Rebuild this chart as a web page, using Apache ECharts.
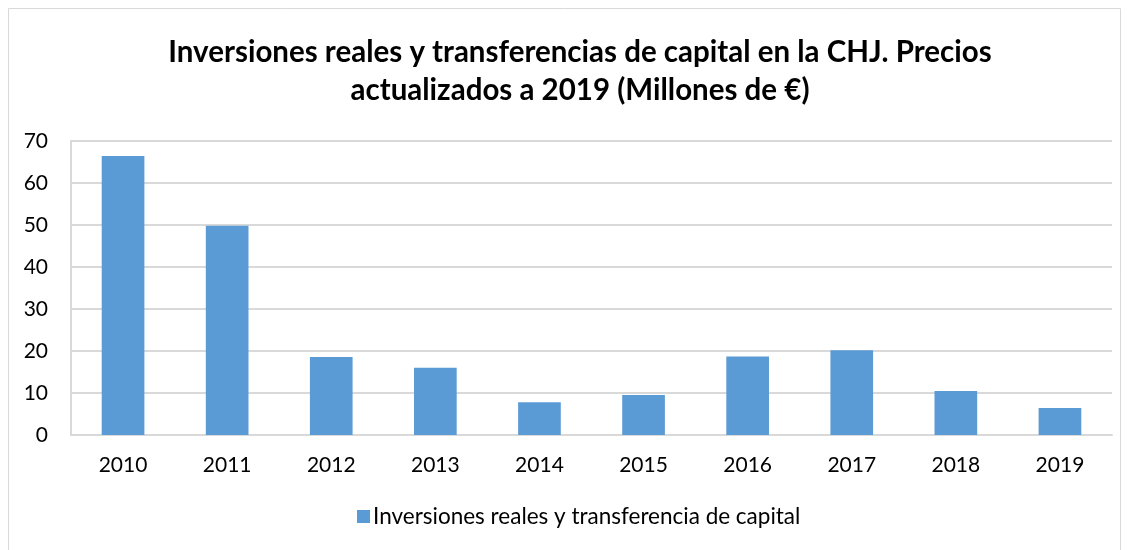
<!DOCTYPE html>
<html>
<head>
<meta charset="utf-8">
<script src="https://cdn.jsdelivr.net/npm/echarts@6/dist/echarts.min.js"></script>
<style>
  html, body { margin: 0; padding: 0; background: #fff; }
  #main { width: 1130px; height: 550px; }
</style>
</head>
<body>
<div id="main"></div>
<script>
// datos
var years = ['2010', '2011', '2012', '2013', '2014', '2015', '2016', '2017', '2018', '2019'];
var inversiones = [66.4, 49.8, 18.6, 16.0, 7.8, 9.5, 18.7, 20.2, 10.5, 6.4];
var yTicks = [0, 10, 20, 30, 40, 50, 60, 70];

var serieName = 'Inversiones reales y transferencia de capital';
var fontFam = 'Lato, "Open Sans", sans-serif';

var myChart = echarts.init(document.getElementById('main'));

var option = {
    animation: false,
    backgroundColor: '#fff',
    title: {
        text: 'Inversiones reales y transferencias de capital en la CHJ. Precios\nactualizados a 2019 (Millones de €)',
        left: 575,
        textAlign: 'center',
        top: 28,
        textStyle: {
            fontFamily: fontFam,
            fontSize: 29.5,
            fontWeight: 'bold',
            color: '#000',
            lineHeight: 38
        }
    },
    // marco exterior del grafico
    graphic: [{
        type: 'rect',
        shape: { x: 8.5, y: 8.5, width: 1112, height: 560 },
        style: { fill: 'none', stroke: '#d9d9d9', lineWidth: 1 },
        silent: true
    }],
    legend: {
        data: [serieName],
        bottom: 17,
        left: 352,
        itemWidth: 13,
        itemHeight: 13,
        itemGap: 6,
        icon: 'rect',
        textStyle: { fontFamily: fontFam, fontSize: 22.5, color: '#000', padding: [0, 0, 0, -2] }
    },
    grid: {
        left: 71,
        right: 18,
        top: 141,
        bottom: 115
    },
    xAxis: {
        type: 'category',
        data: years,
        axisLine: { show: true, lineStyle: { color: '#d9d9d9', width: 2 } },
        axisTick: { show: false },
        axisLabel: { fontFamily: fontFam, fontSize: 21, color: '#000', margin: 20 }
    },
    yAxis: {
        type: 'value',
        min: yTicks[0],
        max: yTicks[yTicks.length - 1],
        interval: 10,
        axisLine: { show: true, lineStyle: { color: '#d9d9d9', width: 2 } },
        axisTick: { show: false },
        splitLine: { lineStyle: { color: '#d9d9d9', width: 2 } },
        axisLabel: { fontFamily: fontFam, fontSize: 21, color: '#000', margin: 23 }
    },
    series: [{
        name: serieName,
        type: 'bar',
        data: inversiones,
        barWidth: '41%',
        itemStyle: { color: '#5b9bd5' }
    }]
};

myChart.setOption(option);
</script>
</body>
</html>
